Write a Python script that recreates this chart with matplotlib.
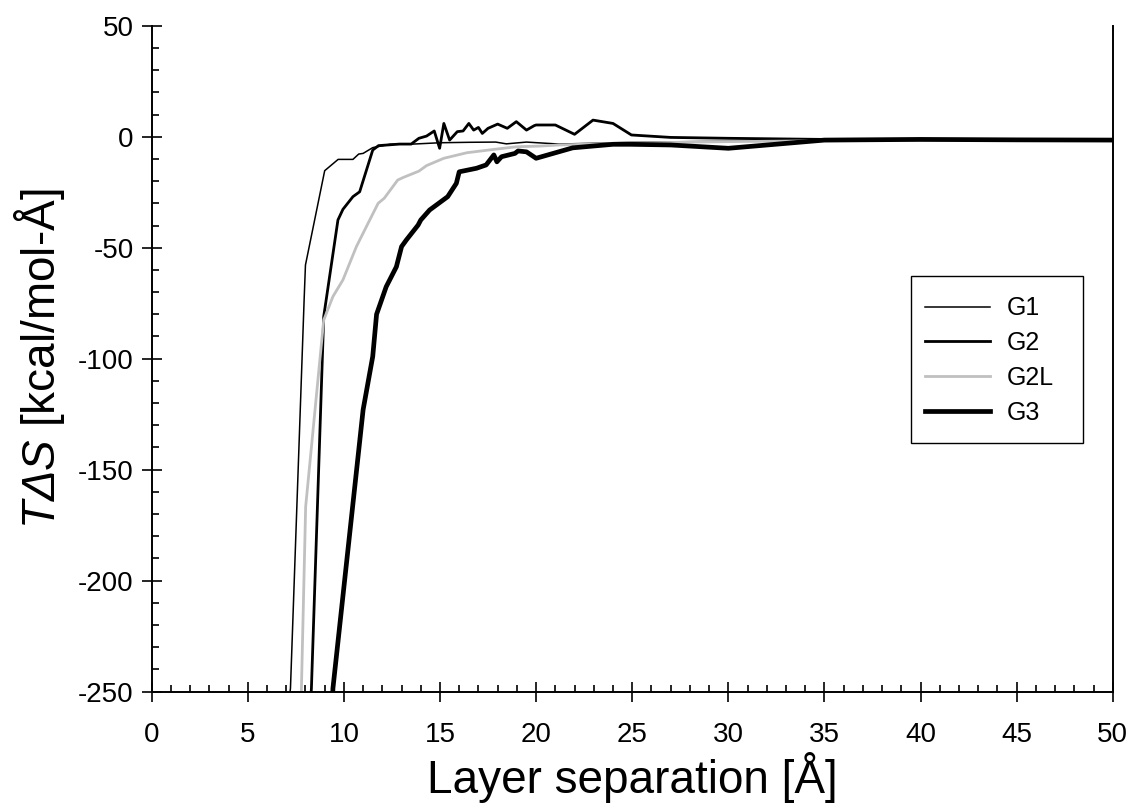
import numpy as np
import matplotlib
matplotlib.use("Agg")
import matplotlib.pyplot as plt
from matplotlib.patches import Rectangle
from matplotlib.ticker import MultipleLocator

plt.rcParams["font.family"] = ["Liberation Sans", "DejaVu Sans"]
plt.rcParams["mathtext.fontset"] = "custom"
plt.rcParams["mathtext.rm"] = "Liberation Sans"
plt.rcParams["mathtext.it"] = "Liberation Sans:italic"
plt.rcParams["mathtext.sf"] = "Liberation Sans:italic"
plt.rcParams["axes.unicode_minus"] = False

# =========================
# Data
# =========================
g1_x = [7.0, 7.22, 7.93, 8.0, 9.0, 9.7, 10.47, 10.77, 11.0, 11.5, 12.4, 13.6,
        15.0, 16.5, 17.9, 18.45, 19.5, 21.2, 25.0, 30.0, 35.0, 40.0, 45.0, 50.0]
g1_y = [-265.0, -248.5, -73.6, -57.8, -15.3, -10.2, -10.2, -7.8, -7.5, -4.9, -3.4, -3.3,
        -2.7, -2.5, -2.4, -3.2, -2.4, -3.3, -2.5, -2.0, -1.8, -1.5, -1.6, -1.5]

g2_x = [8.2, 8.31, 8.95, 9.69, 9.95, 10.47, 10.82, 11.5, 11.8, 12.9, 13.5, 13.9,
        14.3, 14.7, 14.98, 15.2, 15.5, 15.9, 16.2, 16.5, 16.75, 17.0, 17.2, 17.5,
        18.0, 18.5, 18.97, 19.5, 19.9, 20.0, 21.0, 22.0, 22.96, 24.0, 24.96,
        27.0, 30.0, 35.0, 40.0, 50.0]
g2_y = [-265.0, -248.5, -81.0, -37.5, -32.7, -27.0, -24.8, -6.0, -4.0, -3.3, -3.3, -0.7,
        0.3, 2.6, -5.2, 6.0, -1.5, 2.3, 2.6, 6.0, 3.0, 4.2, 1.5, 3.8,
        5.7, 3.8, 6.8, 3.0, 5.0, 5.3, 5.3, 1.1, 7.5, 6.0, 0.8,
        -0.3, -0.7, -1.2, -1.3, -1.5]

g2l_x = [7.75, 7.79, 8.01, 8.95, 9.43, 9.95, 10.65, 11.17, 11.78, 12.1, 12.8, 13.1,
         13.9, 14.3, 15.2, 16.4, 17.8, 19.0, 20.2, 21.2, 25.0, 30.0, 35.0, 40.0, 50.0]
g2l_y = [-265.0, -248.5, -166.7, -82.6, -72.0, -64.5, -49.5, -40.5, -30.0, -27.7, -19.5, -18.3,
         -15.5, -13.0, -9.7, -7.2, -5.7, -4.5, -4.2, -3.7, -2.8, -2.2, -1.8, -1.6, -1.5]

g3_x = [9.35, 9.43, 11.0, 11.5, 11.7, 12.2, 12.73, 13.0, 13.25, 13.86, 14.0, 14.46,
        15.4, 15.85, 16.0, 16.9, 17.4, 17.8, 17.96, 18.2, 18.9, 19.06, 19.5, 20.0,
        21.9, 24.0, 24.9, 27.0, 30.0, 35.0, 40.0, 45.0, 50.0]
g3_y = [-265.0, -248.5, -123.0, -99.0, -80.0, -67.6, -58.6, -49.5, -46.5, -39.8, -37.5, -33.0,
        -27.0, -21.0, -15.8, -14.2, -12.7, -8.2, -11.3, -9.0, -7.5, -6.4, -6.8, -9.7,
        -5.0, -3.4, -3.4, -3.7, -5.2, -1.5, -1.2, -1.4, -1.5]


def main():
    fig = plt.figure(figsize=(11.32, 8.06), dpi=100)
    ax = fig.add_axes([0.134, 0.142, 0.849, 0.826])

    ax.plot(g1_x, g1_y, color="black", lw=1.1, label="G1")
    ax.plot(g2_x, g2_y, color="black", lw=2.0, label="G2")
    ax.plot(g2l_x, g2l_y, color="#c0c0c0", lw=2.0, label="G2L")
    ax.plot(g3_x, g3_y, color="black", lw=3.4, label="G3")

    ax.set_xlim(0, 50)
    ax.set_ylim(-250, 50)

    ax.xaxis.set_major_locator(MultipleLocator(5))
    ax.xaxis.set_minor_locator(MultipleLocator(1))
    ax.yaxis.set_major_locator(MultipleLocator(50))
    ax.yaxis.set_minor_locator(MultipleLocator(10))

    ax.tick_params(which="major", direction="inout", length=14, width=1.2,
                   labelsize=20)
    ax.tick_params(axis="x", which="major", pad=15)
    ax.tick_params(axis="y", which="major", pad=6)
    ax.tick_params(which="minor", direction="in", length=5, width=1.2)
    ax.tick_params(top=False, right=False, which="both")

    ax.spines["top"].set_visible(False)
    for s in ["left", "bottom", "right"]:
        ax.spines[s].set_linewidth(1.4)

    ax.set_xlabel("Layer separation [Å]", fontsize=33, labelpad=3)
    ax.set_ylabel(r"$\mathsf{T\Delta S}$ [kcal/mol-Å]", fontsize=33, labelpad=8)

    # legend box drawn by hand so its size matches the reference
    ax.add_patch(Rectangle((0.7898, 0.3732), 0.179, 0.2513, transform=ax.transAxes,
                           fill=False, edgecolor="black", lw=1.0, zorder=5))
    ax.legend(loc="upper left", bbox_to_anchor=(0.8043, 0.5937), fontsize=18,
              frameon=False, handlelength=2.6, handletextpad=0.7, borderpad=0,
              labelspacing=0.43, borderaxespad=0)

    fig.savefig("out.png", dpi=100)


if __name__ == "__main__":
    main()
